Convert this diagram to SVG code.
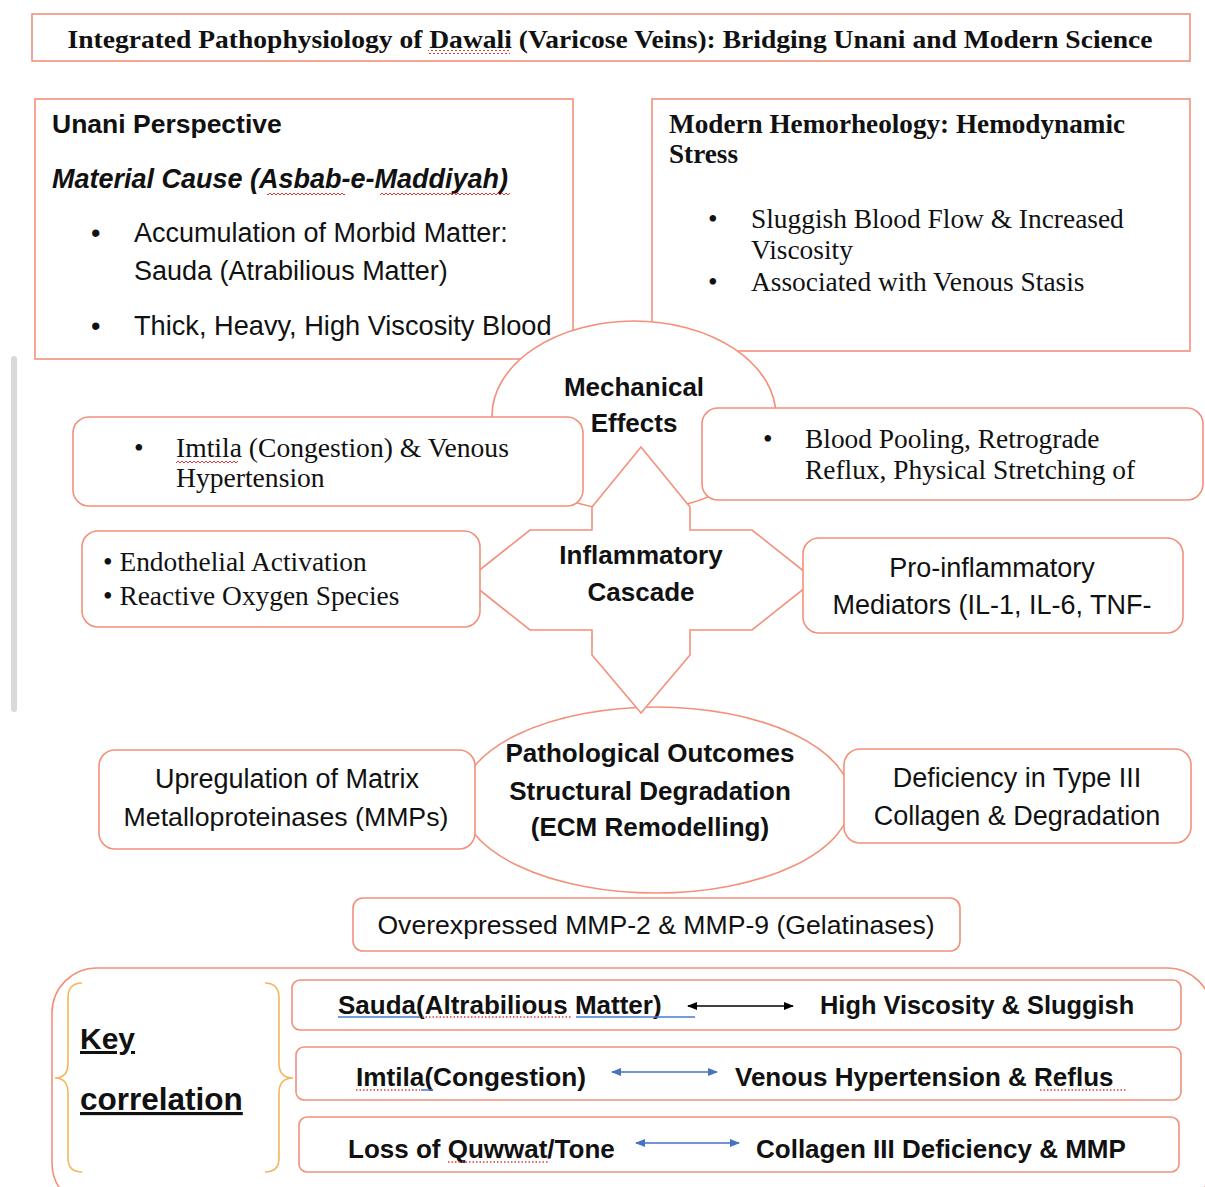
<svg xmlns="http://www.w3.org/2000/svg" width="1205" height="1187" viewBox="0 0 1205 1187">
<defs>
<style>
.box{fill:#fff;stroke:#F4907A;stroke-width:1.6}
.sans{font-family:"Liberation Sans",Arial,sans-serif;fill:#111}
.serif{font-family:"Liberation Serif","Times New Roman",serif;fill:#111}
.b{font-weight:bold}
.c{text-anchor:middle}
.brace{fill:none;stroke:#F5B65E;stroke-width:1.6}
.wavy{fill:url(#wave)}
.dot{stroke:#E03A3A;stroke-width:1.3;stroke-dasharray:1.5 2;fill:none}
.blu{stroke:#4A7BD0;stroke-width:1.5;fill:none}
</style>
<pattern id="wave" width="4" height="4" patternUnits="userSpaceOnUse">
<path d="M0 3 L2 1 L4 3" fill="none" stroke="#E03A3A" stroke-width="1"/>
</pattern>
<marker id="ahK" viewBox="0 0 10 10" refX="9" refY="5" markerWidth="10" markerHeight="10" markerUnits="userSpaceOnUse" orient="auto-start-reverse">
<path d="M0 1 L10 5 L0 9 Z" fill="#000"/>
</marker>
<marker id="ahB" viewBox="0 0 10 10" refX="9" refY="5" markerWidth="10" markerHeight="10" markerUnits="userSpaceOnUse" orient="auto-start-reverse">
<path d="M0 1 L10 5 L0 9 Z" fill="#4472C4"/>
</marker>
</defs>
<rect width="1205" height="1187" fill="#fff"/>
<rect x="11" y="356" width="6" height="356" rx="3" fill="#d9d9d9"/>

<g id="title">
<rect class="box" x="32" y="14" width="1158" height="47"/>
<text class="serif b c" x="610" y="48" font-size="26" textLength="1085" lengthAdjust="spacingAndGlyphs">Integrated Pathophysiology of Dawali (Varicose Veins): Bridging Unani and Modern Science</text>
<rect class="wavy" x="428" y="50" width="82" height="4"/>
</g>

<g id="unani">
<rect class="box" x="35" y="99" width="538" height="260"/>
<text class="sans b" x="52" y="133" font-size="26.5">Unani Perspective</text>
<text class="sans b" x="52" y="188" font-size="27" font-style="italic">Material Cause (Asbab-e-Maddiyah)</text>
<rect class="wavy" x="267" y="191" width="78" height="4"/>
<rect class="wavy" x="380" y="191" width="130" height="4"/>
<text class="sans" x="91" y="242" font-size="27">•</text>
<text class="sans" x="134" y="242" font-size="27">Accumulation of Morbid Matter:</text>
<text class="sans" x="134" y="280" font-size="27">Sauda (Atrabilious Matter)</text>
<text class="sans" x="91" y="335" font-size="27">•</text>
<text class="sans" x="134" y="335" font-size="27.2">Thick, Heavy, High Viscosity Blood</text>
</g>

<g id="modern">
<rect class="box" x="652" y="99" width="538" height="252"/>
<text class="serif b" x="669" y="133" font-size="27.2">Modern Hemorheology: Hemodynamic</text>
<text class="serif b" x="669" y="163" font-size="27.2">Stress</text>
<text class="serif" x="708" y="228" font-size="27.4">•</text>
<text class="serif" x="751" y="228" font-size="27.4">Sluggish Blood Flow &amp; Increased</text>
<text class="serif" x="751" y="259" font-size="27.4">Viscosity</text>
<text class="serif" x="708" y="291" font-size="27.4">•</text>
<text class="serif" x="751" y="291" font-size="27.4">Associated with Venous Stasis</text>
</g>

<g id="mechanical">
<ellipse class="box" cx="634" cy="416" rx="142" ry="95"/>
<text class="sans b c" x="634" y="396" font-size="26">Mechanical</text>
<text class="sans b c" x="634" y="432" font-size="26">Effects</text>
</g>

<g id="imtila">
<rect class="box" x="73" y="417" width="510" height="89" rx="16"/>
<text class="serif" x="134" y="457" font-size="27.6">•</text>
<text class="serif" x="176" y="457" font-size="27.6">Imtila (Congestion) &amp; Venous</text>
<text class="serif" x="176" y="487" font-size="27.6">Hypertension</text>
<rect class="wavy" x="176" y="460" width="62" height="4"/>
</g>

<g id="pooling">
<rect class="box" x="702" y="408" width="501" height="92" rx="16"/>
<text class="serif" x="763" y="448" font-size="27.4">•</text>
<text class="serif" x="805" y="448" font-size="27.4">Blood Pooling, Retrograde</text>
<text class="serif" x="805" y="479" font-size="27.4">Reflux, Physical Stretching of</text>
</g>

<g id="outcomes">
<ellipse class="box" cx="656" cy="800" rx="195" ry="93"/>
<text class="sans b c" x="650" y="762" font-size="26">Pathological Outcomes</text>
<text class="sans b c" x="650" y="800" font-size="26">Structural Degradation</text>
<text class="sans b c" x="650" y="836" font-size="26">(ECM Remodelling)</text>
</g>

<g id="inflammatory">
<polygon class="box" points="641,447 690,507 690,530 752,530 815,580 752,630 690,630 690,655 641,713 592,655 592,630 530,630 467,580 530,530 592,530 592,507"/>
<text class="sans b c" x="641" y="564" font-size="26">Inflammatory</text>
<text class="sans b c" x="641" y="601" font-size="26">Cascade</text>
</g>

<g id="endothelial">
<rect class="box" x="82" y="531" width="398" height="96" rx="16"/>
<text class="serif" x="103" y="571" font-size="27.4">• Endothelial Activation</text>
<text class="serif" x="103" y="605" font-size="27.4">• Reactive Oxygen Species</text>
</g>

<g id="proinflammatory">
<rect class="box" x="803" y="538" width="380" height="95" rx="16"/>
<text class="sans c" x="992" y="577" font-size="27">Pro-inflammatory</text>
<text class="sans c" x="992" y="614" font-size="27">Mediators (IL-1, IL-6, TNF-</text>
</g>

<g id="upregulation">
<rect class="box" x="99" y="750" width="376" height="99" rx="16"/>
<text class="sans c" x="287" y="788" font-size="27">Upregulation of Matrix</text>
<text class="sans c" x="286" y="826" font-size="26.7">Metalloproteinases (MMPs)</text>
</g>

<g id="deficiency">
<rect class="box" x="844" y="749" width="347" height="94" rx="16"/>
<text class="sans c" x="1017" y="787" font-size="27">Deficiency in Type III</text>
<text class="sans c" x="1017" y="825" font-size="27">Collagen &amp; Degradation</text>
</g>

<g id="overexpressed">
<rect class="box" x="353" y="898" width="607" height="53" rx="10"/>
<text class="sans c" x="656" y="934" font-size="26.6">Overexpressed MMP-2 &amp; MMP-9 (Gelatinases)</text>
</g>

<g id="key-correlation">
<rect class="box" x="52" y="968" width="1160" height="240" rx="45"/>
<path class="brace" d="M82 983 Q68 983 68 998 L68 1063 Q68 1078 55 1078 Q68 1078 68 1093 L68 1158 Q68 1172 82 1172"/>
<path class="brace" d="M265 983 Q279 983 279 998 L279 1063 Q279 1078 293 1078 Q279 1078 279 1093 L279 1158 Q279 1172 265 1172"/>
<text class="sans b" x="80" y="1049" font-size="30" text-decoration="underline">Key</text>
<text class="sans b" x="80" y="1110" font-size="31.5" text-decoration="underline">correlation</text>
</g>

<g id="row-sauda">
<rect class="box" x="292" y="980" width="889" height="50" rx="8"/>
<text class="sans b" x="338" y="1014" font-size="26">Sauda(Altrabilious Matter)</text>
<text class="sans b" x="820" y="1014" font-size="25.4">High Viscosity &amp; Sluggish</text>
<line class="blu" x1="338" y1="1017" x2="420" y2="1017"/>
<line class="dot" x1="422" y1="1017" x2="572" y2="1017"/>
<line class="blu" x1="576" y1="1017" x2="695" y2="1017"/>
</g>

<g id="row-imtila">
<rect class="box" x="296" y="1047" width="885" height="53" rx="8"/>
<text class="sans b" x="356" y="1086" font-size="26.2">Imtila(Congestion)</text>
<text class="sans b" x="735" y="1086" font-size="26">Venous Hypertension &amp; Reflus</text>
<line class="dot" x1="356" y1="1090" x2="420" y2="1090"/>
<line class="blu" x1="421" y1="1090" x2="433" y2="1090"/>
<line class="dot" x1="1040" y1="1090" x2="1126" y2="1090"/>
</g>

<g id="row-quwwat">
<rect class="box" x="299" y="1117" width="880" height="55" rx="8"/>
<text class="sans b" x="348" y="1158" font-size="26">Loss of Quwwat/Tone</text>
<text class="sans b" x="756" y="1158" font-size="26">Collagen III Deficiency &amp; MMP</text>
<line class="dot" x1="448" y1="1162" x2="548" y2="1162"/>
</g>

<g id="connectors">
<line x1="688" y1="1006" x2="793" y2="1006" stroke="#000" stroke-width="1.5" marker-start="url(#ahK)" marker-end="url(#ahK)"/>
<line x1="612" y1="1072" x2="717" y2="1072" stroke="#4472C4" stroke-width="1.5" marker-start="url(#ahB)" marker-end="url(#ahB)"/>
<line x1="636" y1="1143" x2="739" y2="1143" stroke="#4472C4" stroke-width="1.5" marker-start="url(#ahB)" marker-end="url(#ahB)"/>
</g>
</svg>
